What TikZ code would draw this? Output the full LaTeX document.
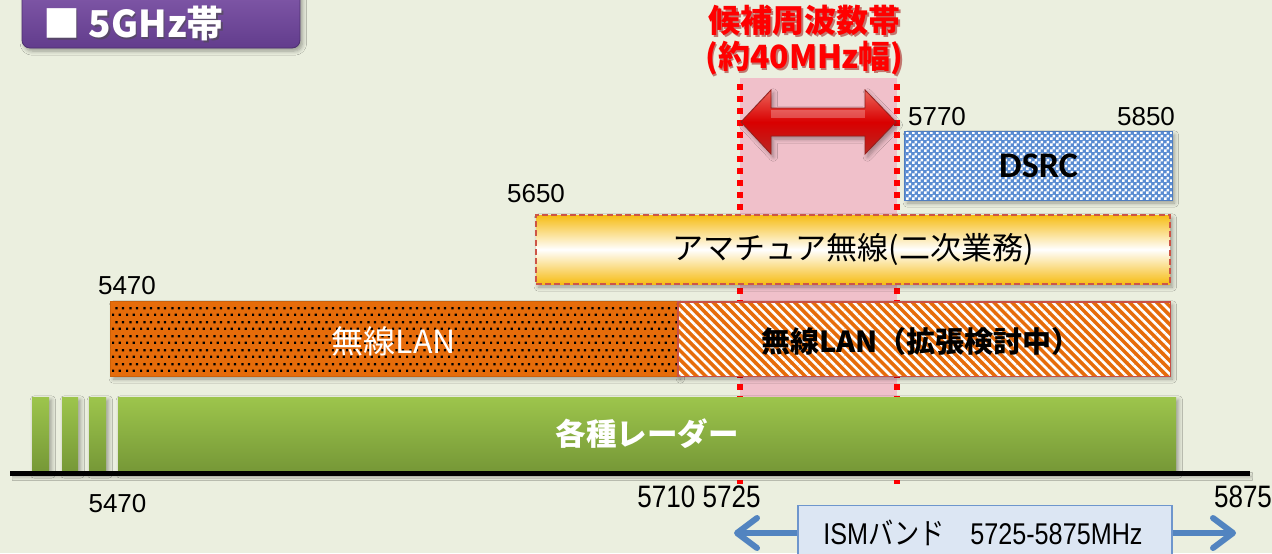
\documentclass[tikz,border=0pt]{standalone}
\usepackage{fontspec}
\setmainfont{Liberation Sans}
\newfontfamily\jp{Noto Sans CJK JP}
\newfontfamily\calfont{Carlito}
\usetikzlibrary{patterns,patterns.meta,shadows.blur,arrows.meta}
\definecolor{bg}{RGB}{235,239,223}
\definecolor{purpletop}{RGB}{132,92,172}
\definecolor{purplebot}{RGB}{98,60,140}
\definecolor{pinkband}{RGB}{240,192,202}
\definecolor{redline}{RGB}{255,0,0}
\definecolor{arrowtop}{RGB}{235,100,90}
\definecolor{arrowbot}{RGB}{185,40,35}
\definecolor{dsrcblue}{RGB}{90,140,210}
\definecolor{dsrcborder}{RGB}{80,125,190}
\definecolor{amyellow}{RGB}{246,188,20}
\definecolor{amborder}{RGB}{205,85,70}
\definecolor{lanorange}{RGB}{230,108,10}
\definecolor{extborder}{RGB}{200,80,70}
\definecolor{radartop}{RGB}{157,197,76}
\definecolor{radarbot}{RGB}{118,152,55}
\definecolor{ismfill}{RGB}{220,230,243}
\definecolor{ismborder}{RGB}{110,150,205}
\definecolor{ismarrow}{RGB}{82,132,192}
\pgfdeclarepatternformonly{checker}{\pgfqpoint{0pt}{0pt}}{\pgfqpoint{3pt}{3pt}}{\pgfqpoint{3pt}{3pt}}{%
  \pgfpathrectangle{\pgfqpoint{0pt}{0pt}}{\pgfqpoint{1.5pt}{1.5pt}}%
  \pgfpathrectangle{\pgfqpoint{1.5pt}{1.5pt}}{\pgfqpoint{1.5pt}{1.5pt}}%
  \pgfusepath{fill}}
\pgfdeclarepatternformonly{sqdots}{\pgfqpoint{0pt}{0pt}}{\pgfqpoint{7pt}{7pt}}{\pgfqpoint{7pt}{7pt}}{%
  \pgfpathrectangle{\pgfqpoint{0pt}{0pt}}{\pgfqpoint{1.2pt}{1.2pt}}%
  \pgfpathrectangle{\pgfqpoint{3.5pt}{0pt}}{\pgfqpoint{1.2pt}{1.2pt}}%
  \pgfpathrectangle{\pgfqpoint{1.75pt}{3.5pt}}{\pgfqpoint{1.2pt}{1.2pt}}%
  \pgfpathrectangle{\pgfqpoint{5.25pt}{3.5pt}}{\pgfqpoint{1.2pt}{1.2pt}}%
  \pgfusepath{fill}}
\tikzset{
  shad/.style={blur shadow={shadow xshift=1.2pt,shadow yshift=-1.5pt,shadow blur steps=6,shadow opacity=35}},
  band/.style={rectangle,inner sep=0pt,shad},
  numlabel/.style={font=\fontsize{13}{15}\selectfont,inner sep=0pt},
  narrowlabel/.style={font=\fontsize{15.5}{17}\selectfont,inner sep=0pt},
  reddots/.style={redline,line width=3pt,dash pattern=on 3pt off 3pt},
  ismarr/.style={ismarrow,line width=3pt,-{Straight Barb[length=10pt,width=15pt,line width=3pt,round]}},
}
\begin{document}
\begin{tikzpicture}[x=0.5pt,y=-0.5pt]
\useasboundingbox (0,0) rectangle (1272,553);
\fill[bg] (0,0) rectangle (1272,553);

% title
\node[rectangle,rounded corners=4pt,top color=purpletop,bottom color=purplebot,draw=purplebot!80!black,line width=0.4pt,
      minimum width=139pt,minimum height=32pt,inner sep=0pt,shad] (title) at (161,16) {};
\node[text=black!70,opacity=0.6,font=\jp\bfseries\fontsize{18.5}{21}\selectfont] at (135,25) {■ 5GHz帯};
\node[text=white,font=\jp\bfseries\fontsize{18.5}{21}\selectfont] (titletext) at (133.5,23) {■ 5GHz帯};

% candidate band
\fill[pinkband] (740,78) rectangle (897,473);
\coordinate (dl1) at (740,84);
\coordinate (dl2) at (740,484);
\coordinate (dr1) at (897,84);
\coordinate (dr2) at (897,484);
\draw[reddots] (dl1) -- (dl2);
\draw[reddots] (dr1) -- (dr2);

\node[text=red!60!black,opacity=0.5,font=\jp\bfseries\fontsize{16}{18}\selectfont,align=center] at (806,42) {候補周波数帯\\(約40MHz幅)};
\node[text=redline,font=\jp\bfseries\fontsize{16}{18}\selectfont,align=center] (cand) at (804.5,40) {候補周波数帯\\(約40MHz幅)};

% double arrow
\path[top color=arrowtop,bottom color=arrowbot,middle color=red!85!black,draw=arrowbot!80!black,line width=0.4pt,shad]
  (741,122) -- (771,90) -- (771,108) -- (865,108) -- (865,90) -- (896,122)
  -- (865,154) -- (865,136) -- (771,136) -- (771,154) -- cycle;
\fill[white,opacity=0.25] (771,110) -- (865,110) -- (865,118) -- (771,118) -- cycle;

% DSRC
\node[band,fill=dsrcblue,minimum width=133.5pt,minimum height=34pt] (dsrc) at (1038.5,166) {};
\fill[pattern=checker,pattern color=white] (dsrc.north west) rectangle (dsrc.south east);
\draw[dsrcborder,line width=0.8pt] (dsrc.north west) rectangle (dsrc.south east);
\node[font=\calfont\bfseries\fontsize{18}{20}\selectfont] (dsrct) at (dsrc.center) {DSRC};

% amateur
\node[band,top color=amyellow,bottom color=amyellow,middle color=white,draw=amborder,line width=1pt,
      dash pattern=on 3pt off 1.6pt,minimum width=317pt,minimum height=34.5pt] (ham) at (853,249.5)
      {\jp\fontsize{15.5}{17}\selectfont アマチュア無線(二次業務)};

% wireless LAN
\node[band,fill=lanorange,minimum width=283.5pt,minimum height=37pt] (lan) at (394.5,339) {};
\fill[pattern=sqdots,pattern color=black] (lan.north west) rectangle (lan.south east);
\draw[lanorange!90!black,line width=0.6pt] (lan.north west) rectangle (lan.south east);
\node[text=white,font=\jp\fontsize{16}{18}\selectfont] (lant) at (394,341) {無線LAN};

\node[band,fill=lanorange,minimum width=246pt,minimum height=37pt] (ext) at (924,339) {};
\fill[pattern={Lines[angle=-45,distance=3.2pt,line width=1.3pt]},pattern color=white] (ext.north west) rectangle (ext.south east);
\draw[extborder,line width=0.9pt] (ext.north west) rectangle (ext.south east);
\node[font=\jp\bfseries\fontsize{14.5}{16}\selectfont] (extt) at (921,341) {無線LAN（拡張検討中）};

% radar
\node[band,top color=radartop,bottom color=radarbot,minimum width=8.5pt,minimum height=37pt] (r1) at (40.5,434) {};
\node[band,top color=radartop,bottom color=radarbot,minimum width=8pt,minimum height=37pt] (r2) at (70,434) {};
\node[band,top color=radartop,bottom color=radarbot,minimum width=8.5pt,minimum height=37pt] (r3) at (97.5,434) {};
\node[band,top color=radartop,bottom color=radarbot,minimum width=529pt,minimum height=37pt] (radar) at (647,434)
      {\color{white}\jp\bfseries\fontsize{15.25}{17}\selectfont 各種レーダー};

% axis
\coordinate (ax1) at (10,473.5);
\coordinate (ax2) at (1250,473.5);
\draw[black,line width=2.6pt,shad] (ax1) -- (ax2);

% top labels
\node[numlabel] (l5470t) at (127,286) {5470};
\node[numlabel] (l5650) at (536,194) {5650};
\node[numlabel] (l5770) at (937,117) {5770};
\node[numlabel] (l5850) at (1146,117) {5850};

% bottom labels
\node[numlabel] (l5470b) at (117.5,504) {5470};
\node[narrowlabel] (l5710) at (699,497) {\scalebox{0.84}[1]{5710 5725}};
\node[narrowlabel] (l5875) at (1243,497) {\scalebox{0.84}[1]{5875}};

% ISM
\node[rectangle,fill=ismfill,draw=ismborder,line width=0.8pt,minimum width=187pt,minimum height=29pt,inner sep=0pt] (ism) at (985,534.5) {};
\node[font=\fontsize{15}{17}\selectfont] (ismt) at (983,533) {\scalebox{0.84}[1]{ISM{\jp バンド　}5725-5875MHz}};
\coordinate (ismL) at (734,533);
\coordinate (ismR) at (1236,533);
\draw[ismarr] (ism.west |- ismL) -- (ismL);
\draw[ismarr] (ism.east |- ismR) -- (ismR);
\end{tikzpicture}
\end{document}
